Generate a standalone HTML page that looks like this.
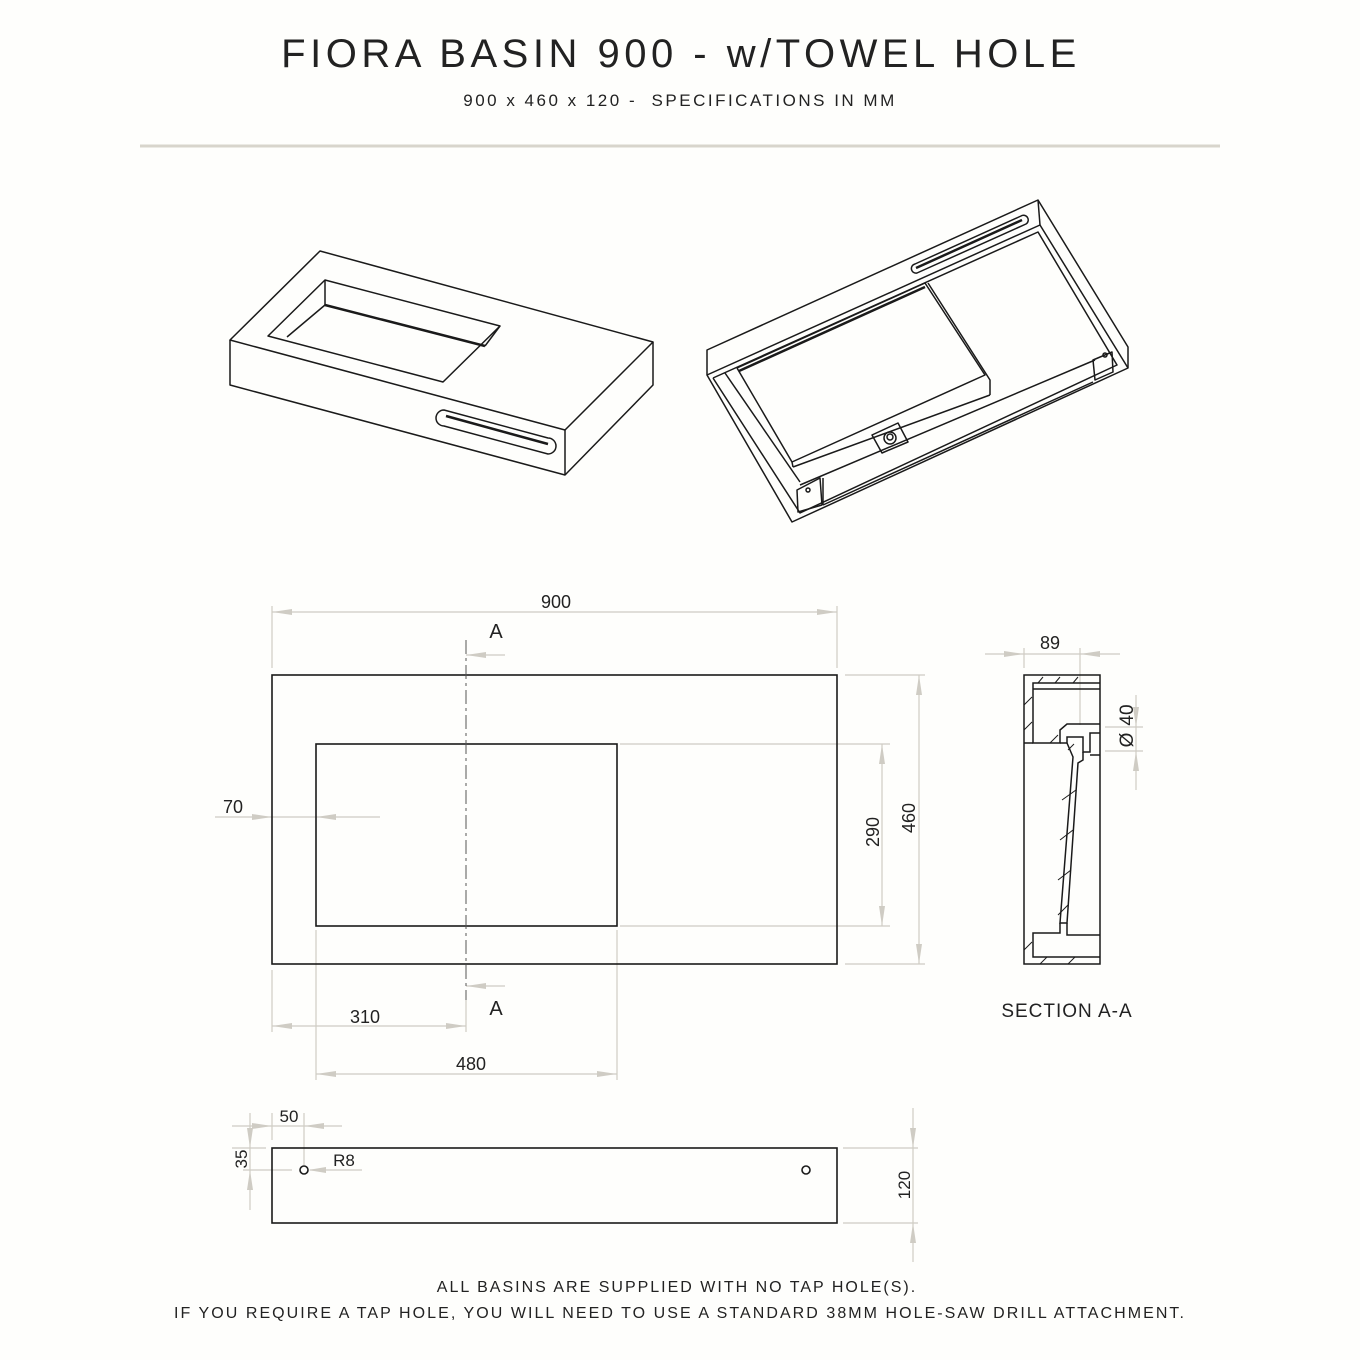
<!DOCTYPE html>
<html><head><style>
html,body{margin:0;padding:0;background:#fefefc;}
svg{display:block;}
text{font-family:"Liberation Sans",sans-serif;fill:#222;}
</style></head><body>
<svg width="1360" height="1360" viewBox="0 0 1360 1360" xmlns="http://www.w3.org/2000/svg">
<rect width="1360" height="1360" fill="#fefefc"/>
<text x="681" y="67" text-anchor="middle" font-size="40" letter-spacing="4.5">FIORA BASIN 900 - w/TOWEL HOLE</text>
<text x="680" y="106" text-anchor="middle" font-size="17" letter-spacing="2.5" xml:space="preserve">900 x 460 x 120 -  SPECIFICATIONS IN MM</text>
<line x1="140" y1="146" x2="1220" y2="146" stroke="#d8d5cc" stroke-width="3"/>

<g fill="none" stroke="#1a1a1a" stroke-width="1.5" stroke-linejoin="round">
<!-- left iso -->
<polygon points="320,251 653,342 565,430 230,340"/>
<polyline points="230,340 230,385 565,475 653,385 653,342"/>
<line x1="565" y1="430" x2="565" y2="475"/>
<polygon points="325,280 500,326 443,382 268,336"/>
<line x1="325" y1="280" x2="325" y2="305"/>
<line x1="325" y1="305" x2="287" y2="337"/>
<line x1="325" y1="305" x2="485" y2="346" stroke-width="2.5"/>
<line x1="485" y1="346" x2="500" y2="326"/>
<path d="M444,410 L548,438 A8,8 0 0 1 548,454 L444,426 A8,8 0 0 1 444,410 Z"/>
<path d="M446,416 L548,444" stroke-width="2.5"/>
<!-- right iso -->
<polygon points="707,350 1038,200 1128,347 1128,368 792,522 707,375"/>
<line x1="707" y1="375" x2="1040" y2="225"/>
<line x1="1038" y1="200" x2="1040" y2="225"/>
<line x1="1040" y1="225" x2="1128" y2="368"/>
<polyline points="713,378 1038,232 1117,365 800,513 713,378"/>
<polyline points="737,368 925,283 985,375 792,462 737,368"/>
<line x1="739" y1="371" x2="925" y2="287" stroke-width="2.5"/>
<line x1="725" y1="373" x2="800" y2="482"/>
<polyline points="928,283 990,380 990,395"/>
<line x1="792" y1="462" x2="793" y2="467"/>
<line x1="793" y1="467" x2="990" y2="395"/>
<line x1="800" y1="485" x2="1095" y2="360"/>
<polygon points="872,435 898,423 908,442 882,453"/>
<circle cx="890" cy="438" r="6"/>
<circle cx="890" cy="437" r="3"/>
<polygon points="797,490 820,478 822,505 798,512"/>
<circle cx="808" cy="490" r="2"/>
<line x1="823" y1="478" x2="823" y2="505"/>
<line x1="823" y1="505" x2="1093" y2="382"/>
<polygon points="1093,360 1112,352 1113,372 1095,380"/>
<circle cx="1105" cy="355" r="2"/>
<path d="M915,264 L1021,216 A4,4 0 0 1 1026,224 L917,273 A4.5,4.5 0 0 1 915,264 Z"/>
<path d="M916,268 L1022,220" stroke-width="2.5"/>
</g>

<!-- plan -->
<g stroke="#cfccc4" stroke-width="1.2" fill="none">
<line x1="272" y1="606" x2="272" y2="668"/><line x1="837" y1="606" x2="837" y2="668"/>
<line x1="272" y1="612" x2="837" y2="612"/>
<line x1="845" y1="675" x2="925" y2="675"/><line x1="845" y1="964" x2="925" y2="964"/>
<line x1="919" y1="675" x2="919" y2="964"/>
<line x1="620" y1="744" x2="890" y2="744"/><line x1="620" y1="926" x2="890" y2="926"/>
<line x1="882" y1="744" x2="882" y2="926"/>
<line x1="215" y1="817" x2="380" y2="817"/>
<line x1="272" y1="970" x2="272" y2="1032"/><line x1="466" y1="1000" x2="466" y2="1032"/>
<line x1="272" y1="1026" x2="466" y2="1026"/>
<line x1="316" y1="930" x2="316" y2="1080"/><line x1="617" y1="930" x2="617" y2="1080"/>
<line x1="316" y1="1074" x2="617" y2="1074"/>
<line x1="466" y1="655" x2="505" y2="655"/><line x1="466" y1="986" x2="505" y2="986"/>
</g>
<g fill="#cfccc4">
<polygon points="272,612 292,609 292,615"/><polygon points="837,612 817,609 817,615"/>
<polygon points="919,675 916,695 922,695"/><polygon points="919,964 916,944 922,944"/>
<polygon points="882,744 879,764 885,764"/><polygon points="882,926 879,906 885,906"/>
<polygon points="272,1026 292,1023 292,1029"/><polygon points="466,1026 446,1023 446,1029"/>
<polygon points="316,1074 336,1071 336,1077"/><polygon points="617,1074 597,1071 597,1077"/>
<polygon points="466,655 486,652 486,658"/><polygon points="466,986 486,983 486,989"/>
<polygon points="272,817 252,814 252,820"/><polygon points="316,817 336,814 336,820"/>
</g>
<g fill="none" stroke="#1a1a1a" stroke-width="1.6">
<rect x="272" y="675" width="565" height="289"/>
<rect x="316" y="744" width="301" height="182"/>
</g>
<line x1="466" y1="640" x2="466" y2="1000" stroke="#555" stroke-width="1" stroke-dasharray="14,4,3,4"/>
<g font-size="18">
<text x="556" y="608" text-anchor="middle">900</text>
<text x="496" y="638" text-anchor="middle" font-size="20">A</text>
<text x="496" y="1015" text-anchor="middle" font-size="20">A</text>
<text x="233" y="813" text-anchor="middle">70</text>
<text x="365" y="1023" text-anchor="middle">310</text>
<text x="471" y="1070" text-anchor="middle">480</text>
<text transform="translate(879,832) rotate(-90)" text-anchor="middle">290</text>
<text transform="translate(915,818) rotate(-90)" text-anchor="middle">460</text>
<text x="1050" y="649" text-anchor="middle">89</text>
<text transform="translate(1133,715) rotate(-90)" text-anchor="middle" font-size="19">40</text>
<text transform="translate(1133,740) rotate(-90)" text-anchor="middle" font-size="19">Ø</text>
<text x="1067" y="1017" text-anchor="middle" font-size="19" letter-spacing="1">SECTION A-A</text>
</g>

<!-- section -->
<g stroke="#cfccc4" stroke-width="1.2" fill="none">
<line x1="985" y1="654" x2="1120" y2="654"/>
<line x1="1024" y1="648" x2="1024" y2="668"/>
<line x1="1080" y1="648" x2="1080" y2="725"/>
<line x1="1105" y1="727" x2="1143" y2="727"/><line x1="1105" y1="751" x2="1143" y2="751"/>
<line x1="1136" y1="695" x2="1136" y2="790"/>
</g>
<g fill="#cfccc4">
<polygon points="1024,654 1004,651 1004,657"/><polygon points="1080,654 1100,651 1100,657"/>
<polygon points="1136,727 1133,707 1139,707"/><polygon points="1136,751 1133,771 1139,771"/>
</g>
<g fill="none" stroke="#1a1a1a" stroke-width="1.5">
<rect x="1024" y="675" width="76" height="289"/>
<polyline points="1100,683 1033,683 1033,743 1060,743 1060,730 1067,724 1100,724"/>
<line x1="1033" y1="689" x2="1100" y2="689"/>
<polyline points="1024,743 1033,743"/>
<polyline points="1060,743 1067,743 1067,737 1083,737 1083,752 1090,752 1090,733 1100,733"/>
<line x1="1090" y1="755" x2="1100" y2="755"/>
<polyline points="1083,752 1083,760 1078,763 1067,923 1060,923 1073,757 1067,743"/>
<polyline points="1060,923 1060,933 1033,933 1033,957 1100,957"/>
<polyline points="1067,923 1067,935 1100,935"/>
</g>
<g stroke="#1a1a1a" stroke-width="1">
<line x1="1038" y1="683" x2="1043" y2="677"/><line x1="1055" y1="683" x2="1060" y2="677"/><line x1="1073" y1="683" x2="1078" y2="677"/>
<line x1="1024" y1="705" x2="1032" y2="697"/><line x1="1024" y1="730" x2="1032" y2="722"/>
<line x1="1050" y1="743" x2="1058" y2="735"/><line x1="1068" y1="750" x2="1074" y2="744"/>
<line x1="1062" y1="800" x2="1076" y2="790"/><line x1="1060" y1="840" x2="1073" y2="830"/><line x1="1058" y1="880" x2="1071" y2="870"/><line x1="1058" y1="915" x2="1068" y2="905"/>
<line x1="1024" y1="950" x2="1032" y2="942"/><line x1="1040" y1="964" x2="1047" y2="957"/><line x1="1068" y1="964" x2="1075" y2="957"/>
</g>

<!-- side elevation -->
<g stroke="#cfccc4" stroke-width="1.2" fill="none">
<line x1="250" y1="1113" x2="250" y2="1210"/>
<line x1="232" y1="1148" x2="266" y2="1148"/><line x1="243" y1="1170" x2="292" y2="1170"/>
<line x1="272" y1="1113" x2="272" y2="1140"/><line x1="304" y1="1113" x2="304" y2="1165"/>
<line x1="232" y1="1126" x2="342" y2="1126"/>
<line x1="310" y1="1170" x2="362" y2="1170"/>
<line x1="913" y1="1108" x2="913" y2="1262"/>
<line x1="843" y1="1148" x2="918" y2="1148"/><line x1="843" y1="1223" x2="918" y2="1223"/>
</g>
<g fill="#cfccc4">
<polygon points="250,1148 247,1128 253,1128"/><polygon points="250,1170 247,1190 253,1190"/>
<polygon points="272,1126 252,1123 252,1129"/><polygon points="304,1126 324,1123 324,1129"/>
<polygon points="308,1170 326,1167 326,1173"/>
<polygon points="913,1148 910,1128 916,1128"/><polygon points="913,1223 910,1243 916,1243"/>
</g>
<g fill="none" stroke="#1a1a1a" stroke-width="1.6">
<rect x="272" y="1148" width="565" height="75"/>
<circle cx="304" cy="1170" r="4"/>
<circle cx="806" cy="1170" r="4"/>
</g>
<g font-size="17">
<text x="289" y="1122" text-anchor="middle">50</text>
<text x="344" y="1166" text-anchor="middle">R8</text>
<text transform="translate(247,1159) rotate(-90)" text-anchor="middle">35</text>
<text transform="translate(910,1185) rotate(-90)" text-anchor="middle">120</text>
</g>
<text x="677" y="1292" text-anchor="middle" font-size="16" letter-spacing="2">ALL BASINS ARE SUPPLIED WITH NO TAP HOLE(S).</text>
<text x="680" y="1318" text-anchor="middle" font-size="16" letter-spacing="2.05">IF YOU REQUIRE A TAP HOLE, YOU WILL NEED TO USE A STANDARD 38MM HOLE-SAW DRILL ATTACHMENT.</text>
</svg>
</body></html>
